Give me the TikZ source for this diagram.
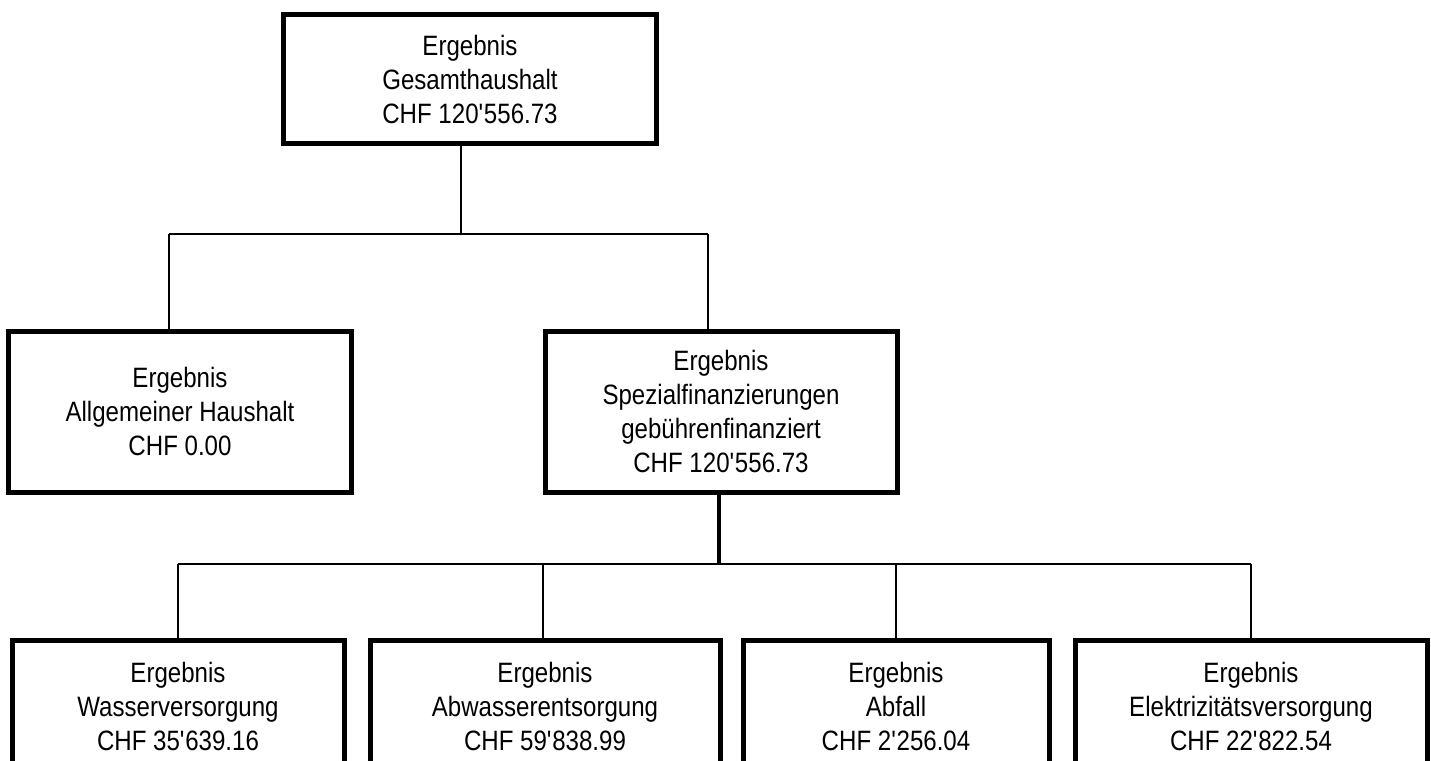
\documentclass[tikz,border=0pt]{standalone}
\usepackage{fontspec}
\setmainfont{Liberation Sans}[FakeStretch=0.86]
\begin{document}
\begin{tikzpicture}[x=1pt,y=-1pt,
  box/.style={draw=black,line width=5pt,fill=white,align=center,inner sep=0pt,
    font=\fontsize{28}{34}\selectfont},
  conn/.style={draw=black,line width=2pt},
  thickconn/.style={draw=black,line width=4pt}]
\useasboundingbox (0,0) rectangle (1431,760);
\fill[white] (0,0) rectangle (1431,760);
\clip (0,0) rectangle (1431,760);
% boxes
\node[box,minimum width=373pt,minimum height=128pt] (top) at (470,79)
  {Ergebnis\\Gesamthaushalt\\CHF 120\textquotesingle 556.73};
\node[box,minimum width=343.5pt,minimum height=161pt] (left) at (180,411.5)
  {Ergebnis\\Allgemeiner Haushalt\\CHF 0.00};
\node[box,minimum width=352pt,minimum height=161pt] (right) at (721,411.5)
  {Ergebnis\\Spezialfinanzierungen\\gebührenfinanziert\\CHF 120\textquotesingle 556.73};
\node[box,minimum width=332pt,minimum height=132pt] (b1) at (178,706)
  {Ergebnis\\Wasserversorgung\\CHF 35\textquotesingle 639.16};
\node[box,minimum width=350pt,minimum height=132pt] (b2) at (545,706)
  {Ergebnis\\Abwasserentsorgung\\CHF 59\textquotesingle 838.99};
\node[box,minimum width=306pt,minimum height=132pt] (b3) at (896,706)
  {Ergebnis\\Abfall\\CHF 2\textquotesingle 256.04};
\node[box,minimum width=352pt,minimum height=132pt] (b4) at (1251,706)
  {Ergebnis\\Elektrizitätsversorgung\\CHF 22\textquotesingle 822.54};
% junction coordinates
\coordinate (j1) at (461,234);
\coordinate (a1) at (169,234);
\coordinate (a2) at (708,234);
\coordinate (j2) at (719,564);
\coordinate (c1) at (178,564);
\coordinate (c2) at (543,564);
\coordinate (c3) at (896,564);
\coordinate (c4) at (1251,564);
% connectors level 1
\draw[conn] (top.south -| j1) -- (j1);
\draw[conn] (a1) -- (a2);
\draw[conn] (a1) -- (a1 |- left.north);
\draw[conn] (a2) -- (a2 |- right.north);
% connectors level 2
\draw[thickconn] (right.south -| j2) -- (j2);
\draw[conn] (c1) -- (c4);
\draw[conn] (c1) -- (c1 |- b1.north);
\draw[conn] (c2) -- (c2 |- b2.north);
\draw[conn] (c3) -- (c3 |- b3.north);
\draw[conn] (c4) -- (c4 |- b4.north);
\end{tikzpicture}
\end{document}
